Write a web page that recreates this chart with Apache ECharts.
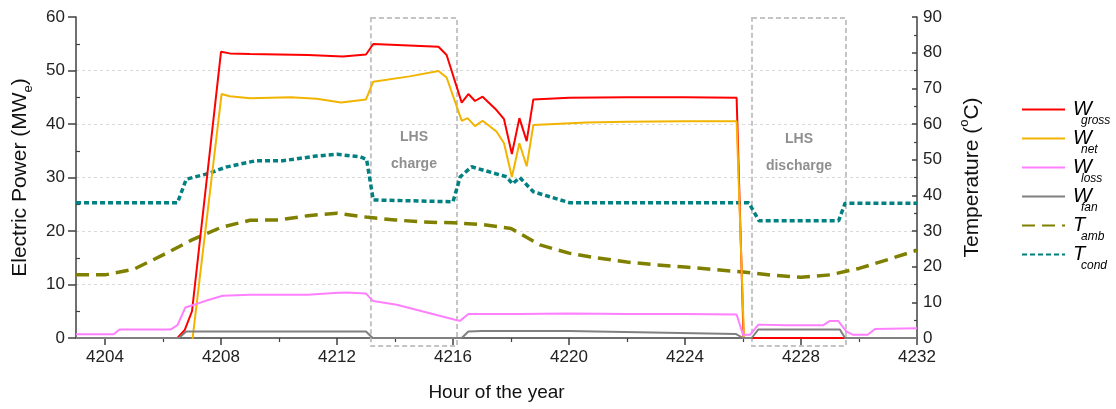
<!DOCTYPE html>
<html><head><meta charset="utf-8">
<script src="https://cdn.jsdelivr.net/npm/echarts@6/dist/echarts.min.js"></script>
<style>html,body{margin:0;padding:0;background:#fff}#c{width:1116px;height:409px}</style>
</head><body><div id="c"></div><script>
// ---- axis ticks ----
const xTickValues = [4204, 4208, 4212, 4216, 4220, 4224, 4228, 4232];
const xMinorTickValues = [4206, 4210, 4214, 4218, 4222, 4226, 4230];

// ---- W_gross ----
const grossHours = [4203, 4206.5, 4206.75, 4207, 4208, 4208.3, 4209, 4210, 4211, 4212.2, 4213, 4213.25, 4215.5, 4215.78, 4216.3, 4216.53, 4216.76, 4217.02, 4217.5, 4217.76, 4218.03, 4218.29, 4218.54, 4218.77, 4220, 4222, 4224, 4225.78, 4226.02, 4229.5, 4232];
const grossValues = [0, 0, 1.5, 5, 53.5, 53.2, 53.1, 53.0, 52.9, 52.6, 53.0, 54.95, 54.45, 52.9, 44.0, 45.6, 44.3, 45.1, 42.6, 40.9, 34.4, 41.1, 36.8, 44.6, 44.9, 45.0, 45.0, 44.9, 0, 0, 0];

// ---- W_net ----
const netHours = [4203, 4206.5, 4207, 4208.02, 4208.3, 4209, 4210.4, 4211.3, 4212.14, 4213, 4213.25, 4214.5, 4215.5, 4215.78, 4216.3, 4216.5, 4216.76, 4217.02, 4217.5, 4217.76, 4218.03, 4218.29, 4218.54, 4218.77, 4220.6, 4222, 4224, 4225.78, 4226.04, 4226.3, 4229.5, 4232];
const netValues = [-1.5, -2.4, -1.0, 45.6, 45.2, 44.8, 45.0, 44.7, 44.0, 44.6, 47.9, 48.9, 49.9, 48.7, 40.6, 41.1, 39.6, 40.6, 38.6, 36.4, 30.1, 36.4, 32.1, 39.8, 40.3, 40.4, 40.5, 40.5, -0.8, -3.0, -3.2, -1.8];

// ---- W_loss ----
const lossHours = [4203, 4204.3, 4204.5, 4206.27, 4206.5, 4206.77, 4207.07, 4207.5, 4208.06, 4209, 4210, 4211, 4211.9, 4212.33, 4213.0, 4213.25, 4214.06, 4216.07, 4216.24, 4216.53, 4218.3, 4220, 4222, 4224, 4225.78, 4226.0, 4226.24, 4226.53, 4227.5, 4228.77, 4229.0, 4229.28, 4229.57, 4229.8, 4230.3, 4230.55, 4232];
const lossValues = [0.7, 0.7, 1.6, 1.6, 2.4, 5.7, 6.2, 7.0, 7.9, 8.1, 8.1, 8.1, 8.4, 8.5, 8.3, 6.9, 6.2, 3.4, 3.2, 4.5, 4.5, 4.6, 4.5, 4.5, 4.4, 0.6, 0.6, 2.5, 2.4, 2.4, 3.2, 3.2, 1.2, 0.6, 0.6, 1.7, 1.8];

// ---- W_fan ----
const fanHours = [4203, 4206.55, 4206.8, 4213.0, 4213.23, 4216.3, 4216.53, 4217, 4220, 4225.75, 4226.0, 4226.3, 4226.53, 4229.34, 4229.52, 4232];
const fanValues = [0, 0, 1.2, 1.2, 0, 0, 1.2, 1.3, 1.3, 0.75, 0, 0, 1.6, 1.6, 0, 0];

// ---- T_amb (°C) ----
const ambHours = [4203, 4204, 4205, 4206, 4207, 4208, 4209, 4210, 4211, 4212, 4213, 4214, 4215, 4216, 4217, 4218, 4219, 4220, 4221, 4222, 4223, 4224, 4225, 4226, 4227, 4228, 4229, 4230, 4231, 4232];
const ambValues = [17.7, 17.7, 19.3, 23.3, 27.5, 31.0, 33.0, 33.1, 34.3, 35.0, 33.9, 33.1, 32.5, 32.3, 31.8, 30.7, 26.1, 23.8, 22.4, 21.3, 20.5, 19.9, 19.2, 18.5, 17.6, 17.0, 17.7, 19.5, 22.0, 24.6];

// ---- T_cond (°C) ----
const condHours = [4203, 4206.5, 4206.8, 4207.6, 4208.17, 4209.2, 4210.13, 4211.28, 4212.0, 4212.8, 4213.02, 4213.25, 4216.0, 4216.25, 4216.64, 4217.85, 4218.05, 4218.3, 4218.77, 4219.34, 4220.03, 4226.2, 4226.55, 4229.3, 4229.52, 4232];
const condValues = [37.9, 37.9, 44.5, 46.2, 47.9, 49.7, 49.7, 51.0, 51.5, 50.8, 50.1, 38.7, 38.2, 45.2, 48.0, 45.2, 43.2, 45.0, 41.0, 39.6, 37.9, 37.9, 32.9, 32.9, 37.8, 37.8];

// ---- LHS boxes ----
const boxStart = [4213.17, 4226.31];
const boxEnd = [4216.14, 4229.55];
const boxTop = [59.8, 59.8];
const boxLabelLevel = [35.0, 34.6];
const boxLabels = ['LHS\ncharge', 'LHS\ndischarge'];

// ---- legend ----
const legendNames = ['Wgross', 'Wnet', 'Wloss', 'Wfan', 'Tamb', 'Tcond'];
const legendMain = ['W', 'W', 'W', 'W', 'T', 'T'];
const legendSub = ['gross', 'net', 'loss', 'fan', 'amb', 'cond'];

const FONT = '"Liberation Sans", Arial, Helvetica, sans-serif';
const zip = (h, v) => h.map((x, i) => [x, v[i]]);

const chart = echarts.init(document.getElementById('c'), null, {renderer: 'canvas'});

const lineSeries = (name, hours, vals, color, width, dash, yIdx, z) => ({
  name, type: 'line', data: zip(hours, vals), yAxisIndex: yIdx, xAxisIndex: 0,
  symbol: 'none', showSymbol: false, smooth: false, animation: false, z,
  lineStyle: {color, width, type: dash || 'solid', cap: 'butt'},
  itemStyle: {color}, emphasis: {disabled: true}
});

const option = {
  animation: false,
  backgroundColor: '#fff',
  grid: {left: 76, right: 199, top: 17, bottom: 71, containLabel: false, outerBoundsMode: 'none'},
  legend: {
    orient: 'vertical', left: 1021, top: 92, padding: 0,
    itemWidth: 43, itemHeight: 12, itemGap: -6,
    itemStyle: {opacity: 0},
    data: legendNames,
    formatter: n => { const i = legendNames.indexOf(n); return '{m|' + legendMain[i] + '}{s|' + legendSub[i] + '}'; },
    textStyle: {
      rich: {
        m: {fontFamily: FONT, fontSize: 20, fontStyle: 'italic', color: '#000', lineHeight: 29, width: 8, padding: [0, 0, 0, 3]},
        s: {fontFamily: FONT, fontSize: 12, fontStyle: 'italic', color: '#000', lineHeight: 6, padding: [23, 0, 0, 0]}
      }
    }
  },
  xAxis: [{
    type: 'value', min: 4203, max: 4232,
    name: 'Hour of the year', nameLocation: 'middle', nameGap: 45,
    nameTextStyle: {fontFamily: FONT, fontSize: 19, color: '#111'},
    axisLine: {show: true, onZero: false, lineStyle: {color: '#404040', width: 1.5}},
    axisTick: {show: true, length: 7, customValues: xTickValues, lineStyle: {color: '#404040', width: 1.5}},
    axisLabel: {show: true, customValues: xTickValues, margin: 11, fontFamily: FONT, fontSize: 17, color: '#222', formatter: v => String(v)},
    splitLine: {show: false}
  }, {
    type: 'value', min: 4203, max: 4232, position: 'bottom',
    axisLine: {show: false},
    axisTick: {show: true, length: 4, customValues: xMinorTickValues, lineStyle: {color: '#404040', width: 1.2}},
    axisLabel: {show: false},
    splitLine: {show: false}
  }],
  yAxis: [{
    type: 'value', min: 0, max: 60, interval: 10, position: 'left',
    name: '{a|Electric Power (MW}{e|e}{a|)}', nameLocation: 'middle', nameRotate: 90, nameGap: 40,
    nameTextStyle: {
      rich: {
        a: {fontFamily: FONT, fontSize: 21, color: '#111', lineHeight: 24},
        e: {fontFamily: FONT, fontSize: 13, color: '#111', lineHeight: 8, padding: [16, 0, 0, 0]}
      }
    },
    axisLine: {show: true, lineStyle: {color: '#404040', width: 1.5}},
    axisTick: {show: true, length: 8, lineStyle: {color: '#404040', width: 1.5}},
    axisLabel: {margin: 11, fontFamily: FONT, fontSize: 17, color: '#222'},
    splitLine: {show: true, showMinLine: false, showMaxLine: false, lineStyle: {color: '#d9d9d9', width: 1, type: [3, 3]}}
  }, {
    type: 'value', min: 0, max: 90, interval: 10, position: 'right',
    name: '{a|Temperature (}{o|o}{a|C)}', nameLocation: 'middle', nameRotate: 90, nameGap: 43,
    nameTextStyle: {
      rich: {
        a: {fontFamily: FONT, fontSize: 21, color: '#111', lineHeight: 24},
        o: {fontFamily: FONT, fontSize: 13, color: '#111', lineHeight: 8, padding: [0, 0, 16, 0]}
      }
    },
    axisLine: {show: true, lineStyle: {color: '#404040', width: 1.5}},
    axisTick: {show: true, inside: true, length: 5, lineStyle: {color: '#404040', width: 1.5}},
    minorTick: {show: true, splitNumber: 2, length: 3, lineStyle: {color: '#404040', width: 1.2}},
    axisLabel: {margin: 6, fontFamily: FONT, fontSize: 17, color: '#222'},
    splitLine: {show: false}
  }, {
    type: 'value', min: 0, max: 60, interval: 10, position: 'left',
    axisLine: {show: false},
    axisTick: {show: false, inside: true},
    minorTick: {show: true, splitNumber: 2, length: 4, lineStyle: {color: '#404040', width: 1.2}},
    axisLabel: {show: false},
    splitLine: {show: false}
  }],
  series: [
    {
      type: 'custom', name: 'LHS', xAxisIndex: 0, yAxisIndex: 0, clip: false, z: 1, silent: true,
      data: boxStart.map((s, i) => [s, boxEnd[i], boxTop[i], boxLabelLevel[i]]),
      encode: {x: [0, 1], y: [2, 3]},
      renderItem: (params, api) => {
        const i = params.dataIndex;
        const tl = api.coord([api.value(0), api.value(2)]);
        const br = api.coord([api.value(1), 0]);
        const lp = api.coord([(api.value(0) + api.value(1)) / 2, api.value(3)]);
        return {type: 'group', children: [
          {type: 'rect', shape: {x: tl[0], y: tl[1], width: br[0] - tl[0], height: br[1] - tl[1] + 8},
           style: {fill: 'none', stroke: '#c4c4c4', lineWidth: 2, lineDash: [5, 3]}},
          {type: 'text', x: lp[0], y: lp[1],
           style: {text: boxLabels[i], fill: '#8f8f8f', fontFamily: FONT, fontWeight: 'bold', fontSize: 14,
                   align: 'center', verticalAlign: 'middle', lineHeight: 27}}
        ]};
      }
    },
    lineSeries('Tamb', ambHours, ambValues, '#808000', 3.5, [13, 7], 1, 2),
    lineSeries('Tcond', condHours, condValues, '#008080', 3.5, [5, 3], 1, 2),
    lineSeries('Wgross', grossHours, grossValues, '#ff0000', 2, null, 0, 3),
    lineSeries('Wnet', netHours, netValues, '#f2b400', 2, null, 0, 3),
    lineSeries('Wloss', lossHours, lossValues, '#ff80ff', 2, null, 0, 3),
    lineSeries('Wfan', fanHours, fanValues, '#808080', 2, null, 0, 3)
  ]
};
chart.setOption(option);
</script></body></html>
